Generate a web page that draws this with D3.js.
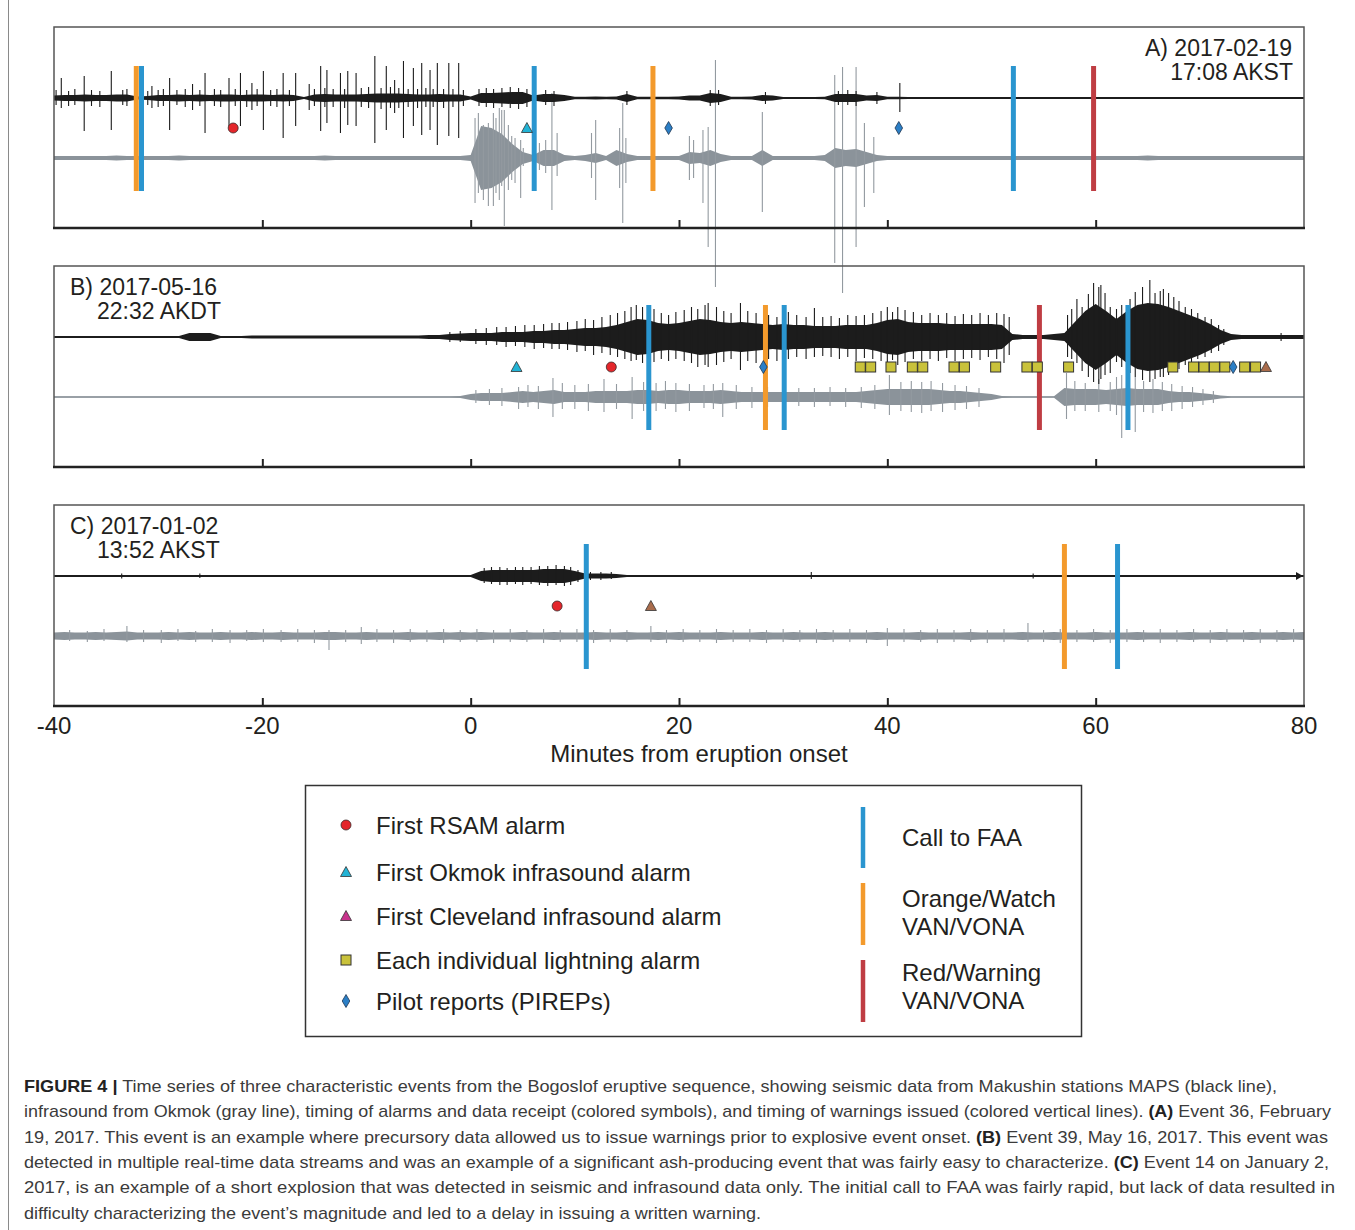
<!DOCTYPE html>
<html><head><meta charset="utf-8">
<script src="https://cdn.jsdelivr.net/npm/d3@7"></script>
<style>
body{margin:0;background:#fff}
svg{display:block}
text{font-family:"Liberation Sans",Arial,Helvetica,sans-serif}
</style>
</head><body>
<svg id="chart" width="1355" height="1230"></svg>
<script>
// ---------------- DATA ----------------
// sample grid: one envelope (core half-amplitude) value per minute, -40 .. 80
const minutes = d3.range(-40, 81);
const xTicks = [-40, -20, 0, 20, 40, 60, 80];
const innerTicks = [-20, 0, 20, 40, 60];
const xTitle = "Minutes from eruption onset";

// Panel A 2017-02-19 : seismic (MAPS, black) and infrasound (Okmok, gray)
const seisA = [2.5,3,3,3.5,3,3,3.5,3.5,1.5,2, 3,3,3.5,3,3.5,3,3.5,3.5,3,3.5, 3.5,3,3.5,3,1,3.5,4,3.5,3.5,3.5, 4,4.5,4.5,4.5,4,3.5,3.5,4,3.5,3.5,
  1.5,5,5,5.5,6,6,2.5,4,4,3, 1.2,1.2,1.5,1.2,1.5,4,1.2,1.2,1.2,1.2, 1.5,2.5,2.5,5,4,1.2,1.2,1.5,3,2.5, 1,1,1,1,1.2,4,4,4,2.5,3,
  1.2,1.2,1,1,1,1,1,1,1,1, 1,1,1,1,1,1,1,1,1,1, 1,1,1,1,1,1,1,1,1,1, 1,1,1,1,1,1,1,1,1,1,1];
const infraA = [2,2,2,2,2,2,2.5,2,2,2, 2,2,2.5,2,2,2,2,2,2,2, 2,2,2,2,2,2,2.5,2,2,2, 2,2,2,2,2,2,2,2,2,2,
  3,32,30,24,14,6,3,8,8,3, 2,3,5,2,8,4,2,2,2,2, 2,6,5,8,4,2,2,2,8,2, 2,2,2,2,3,10,8,9,6,3,
  2,2,2,2,2,2,2,2,2,2, 2,2,2,2,2,2,2,2,2,2, 2,2,2,2,2,2.5,2,2,2,2, 2,2,2,2,2,2,2,2,2,2,2];
// spikes: [minute, up, down]
const seisSpikesA = [[-39.3,20,10],[-37.1,22,33],[-34.5,27,32],[-30.6,12,10],[-28.9,20,32],[-26.7,14,12],
  [-25.5,25,35],[-23.2,20,28],[-22.1,25,28],[-21.0,15,12],[-19.9,27,32],[-18.0,25,40],[-16.8,25,28],
  [-15.5,14,12],[-14.4,32,33],[-13.8,28,25],[-12.5,25,35],[-11.8,27,27],[-11.0,25,28],[-9.2,42,45],
  [-8.1,32,32],[-7.3,18,15],[-6.45,37,40],[-5.5,30,28],[-4.7,35,37],[-3.9,28,32],[-3.2,35,47],
  [-2.1,35,38],[-1.15,35,40],[41.2,15,14],
  [-39.8,8,7],[-38.6,7,8],[-38.0,9,7],[-36.4,8,8],[-35.6,7,9],[-33.4,8,7],[-33.0,9,8],[-31.0,7,7],[-30.0,8,9],
  [-29.5,9,8],[-28.2,8,7],[-27.4,9,9],[-26.0,8,8],[-24.6,9,8],[-24.0,8,9],[-22.6,9,8],[-21.5,8,9],[-20.5,9,8],
  [-19.2,8,8],[-18.6,9,9],[-17.4,8,8],[-15.0,9,8],[-14.0,10,9],[-13.2,9,9],[-12.1,9,10],[-10.5,10,9],[-9.8,11,10],
  [-8.6,10,11],[-7.7,11,10],[-6.9,10,10],[-6.0,9,9],[-5.1,9,10],[-4.3,10,9],[-3.6,9,9],[-2.6,9,10],[-1.7,9,9],[-0.7,8,8],
  [0.8,9,8],[1.5,10,9],[2.2,9,10],[3.0,10,9],[3.8,11,10],[4.6,10,11],[5.4,9,9],[7.2,8,7],[8.0,7,8],
  [15.0,7,7],[23.0,8,8],[23.8,8,7],[28.3,6,6],[35.3,7,7],[36.2,8,7],[37.0,7,8],[39.0,6,6]];
const infraSpikesA = [[0.42,40,45],[0.74,45,35],[1.22,33,42],[1.70,35,48],[2.18,45,48],[2.43,40,35],[2.75,50,42],
  [2.98,48,28],[3.23,48,68],[3.62,33,32],[3.94,22,22],[4.26,20,25],[4.80,18,40],[5.05,10,8],
  [6.6,15,12],[7.2,18,15],[7.8,65,52],[8.3,25,18],[11.6,25,20],[12.0,38,42],[14.3,30,30],[14.6,55,65],[14.9,20,25],
  [21.0,22,22],[21.4,18,20],[22.3,28,45],[22.8,31,89],[23.5,98,129],[28.0,46,54],
  [34.95,83,105],[35.7,91,135],[37.0,91,89],[37.8,35,49],[38.7,21,35]];

// Panel B 2017-05-16
const seisB = [1,1,1,1,1,1,1,1,1,1, 1,1,1,4,4,4,1,1,1,1.5, 1.5,1.5,1.5,1.5,1.5,1.5,1.5,1.5,1.5,1.5,
  1.5,1.5,1.5,1.5,1.5,1.5,2,2,3,3.5, 4,4,4,5,5,5,6,6,7,7, 8,9,9,10,12,15,18,17,14,13,
  14,16,18,17,15,14,15,14,13,12, 13,12,12,11,11,11,12,12,12,14, 17,18,15,14,14,14,13,13,13,13,
  13,12,3,2,2,2,3,4,15,26, 33,26,18,26,32,34,33,30,26,22, 18,13,7,3,2,2,2,2,2,2,2];
const infraB = [0.8,0.8,0.8,0.8,0.8,0.8,0.8,0.8,0.8,0.8, 0.8,0.8,0.8,0.8,0.8,0.8,0.8,0.8,0.8,0.8,
  0.8,0.8,0.8,0.8,0.8,0.8,0.8,0.8,0.8,0.8, 0.8,0.8,0.8,0.8,0.8,0.8,0.8,0.8,0.8,1,
  3,4,4,4,5,6,5,6,7,5, 5,5,6,6,6,6,7,7,6,7, 7,6,6,6,7,6,5,5,5,5, 5,5,5,5,5,5,5,5,6,7,
  8,8,8,8,8,7,6,6,5,4, 3,1,0.8,0.8,0.8,0.8,0.8,9,8,8, 8,7,8,9,8,8,8,6,5,5,
  4,3,1.5,0.8,0.8,0.8,0.8,0.8,0.8,0.8,0.8];
const seisSpikesB = [[-2.0,5,5],[-1.0,6,5],[0.5,8,7],[1.5,9,8],[2.5,10,8],[3.4,10,10],[4.3,11,9],[5.2,12,10],
  [6.1,12,12],[7.0,13,11],[7.8,14,12],[8.5,14,12],[9.3,15,13],[10.2,16,15],[11.0,18,14],[11.8,17,18],[12.6,20,16],
  [13.4,22,18],[14.1,24,20],[14.8,26,22],[15.4,30,24],[15.9,32,23],[16.5,30,26],[17.6,28,25],[18.3,24,22],[19.0,22,24],
  [19.7,25,22],[20.5,27,24],[21.2,30,26],[21.8,28,30],[22.5,32,28],[22.8,34,30],[23.6,30,28],[24.3,26,25],[25.0,24,22],
  [25.9,34,33],[26.6,26,24],[27.4,24,26],[28.6,22,22],[29.4,20,24],[30.5,25,22],[31.3,22,20],[32.2,20,22],[33.0,29,20],
  [33.8,20,19],[34.6,21,20],[35.4,19,22],[36.2,22,20],[37.0,21,24],[37.8,22,21],[38.6,24,22],[39.4,26,24],[40.0,30,26],
  [40.5,25,23],[41.0,30,28],[41.7,27,25],[42.5,25,22],[43.3,22,24],[44.1,24,22],[44.9,22,24],[45.7,24,21],[46.5,21,24],
  [47.3,23,22],[48.1,22,21],[48.9,24,23],[49.7,22,20],[50.5,24,22],[51.2,23,26],[51.7,20,18],
  [57.3,22,20],[57.7,28,22],[58.2,38,26],[58.7,30,34],[59.3,43,40],[59.8,54,45],[60.3,50,47],[60.5,52,42],[60.9,44,38],
  [61.4,30,36],[62.0,28,25],[62.5,32,30],[63.3,38,36],[63.8,45,40],[64.5,50,43],[65.2,57,45],[65.7,44,42],[66.2,46,40],
  [66.5,48,40],[67.0,44,38],[67.5,40,30],[68.0,36,32],[68.6,30,28],[69.2,28,26],[69.8,24,22],[70.5,20,20],[71.1,18,16],
  [71.8,12,14],[72.3,8,8],[77.8,4,4]];
const infraSpikesB = [[0.5,7,6],[1.8,8,8],[3.0,9,9],[4.6,10,12],[5.5,12,10],[6.5,11,12],[7.9,19,20],[8.8,14,12],
  [10.0,12,12],[11.3,13,14],[12.8,18,15],[14.0,13,12],[15.5,20,22],[16.6,15,14],[17.8,14,14],[18.7,16,12],[19.7,14,15],
  [21.0,13,14],[22.4,12,11],[23.3,13,12],[24.2,14,20],[25.5,12,12],[27.0,10,11],[28.5,10,10],[30.0,9,10],[31.5,9,9],
  [33.0,9,10],[34.5,10,9],[36.0,9,10],[37.5,10,11],[38.8,12,12],[40.2,22,18],[41.3,15,14],[42.3,16,15],[43.3,15,16],
  [44.2,16,14],[45.3,14,15],[46.5,12,13],[47.6,11,12],[48.8,9,10],[57.2,24,22],[58.0,16,14],[59.0,14,14],[60.3,18,15],
  [61.4,15,14],[62.0,20,18],[62.5,22,41],[63.2,18,16],[63.8,20,35],[64.6,16,15],[65.5,18,16],[66.4,15,14],[67.3,13,14],
  [68.3,11,12],[69.3,10,10],[70.3,8,8],[71.3,6,6]];

// Panel C 2017-01-02
const seisC = [1,1,1,1,1,1,1,1,1,1, 1,1,1,1,1,1,1,1,1,1, 1,1,1,1,1,1,1,1,1,1, 1,1,1,1,1,1,1,1,1,1,
  1,5,6,6,6,6,6,7,7,7, 5,2.5,2.5,2.5,2,1,1,1,1,1, 1,1,1,1,1,1,1,1,1,1, 1,1,1,1,1,1,1,1,1,1,
  1,1,1,1,1,1,1,1,1,1, 1,1,1,1,1,1,1,1,1,1, 1,1,1,1,1,1,1,1,1,1, 1,1,1,1,1,1,1,1,1,1,1];
const infraC = [3.5,4,3.5,3.5,4,3.5,4,4.5,3.5,3.5, 3.5,4,3.5,4,3.5,3.5,4,3.5,3.5,4, 3.5,3.5,4,3.5,3.5,3.5,4,4,3.5,3.5,
  4,3.5,3.5,3.5,4,3.5,3.5,4,3.5,4, 3.5,4,3.5,3.5,3.5,4,3.5,3.5,4,3.5, 3.5,3.5,4,3.5,3.5,4,3.5,3.5,4,3.5,
  4,3.5,3.5,3.5,4,3.5,3.5,3.5,4,3.5, 3.5,4,3.5,3.5,4,3.5,3.5,3.5,3.5,4, 3.5,3.5,3.5,4,3.5,3.5,3.5,3.5,4,3.5,
  3.5,3.5,3.5,4,3.5,3.5,4,3.5,3.5,3.5, 4,3.5,3.5,3.5,4,3.5,3.5,3.5,3.5,4, 3.5,3.5,4,3.5,3.5,4,3.5,3.5,4,3.5,4];
const seisSpikesC = [[1.3,8,7],[2.0,9,8],[2.8,9,9],[3.5,8,9],[4.3,9,8],[5.0,9,9],[5.8,9,8],[6.6,10,9],[7.4,10,10],
  [8.2,11,9],[9.0,10,10],[9.6,9,9],[10.3,6,6],[11.5,4,4],[12.5,4,4],[13.5,4,3],[-33.5,2.5,2.5],[-26.0,2.5,2],[32.7,4,3],[54.0,2.5,2.5]];
const infraSpikesC = [[-38.5,6,5],[-36.8,5,6],[-35.2,7,5],[-33.0,10,6],[-31.4,6,6],[-29.7,6,7],[-28.1,7,5],[-26.4,5,6],
  [-24.8,7,6],[-23.1,6,7],[-21.5,6,5],[-19.9,7,6],[-18.2,6,6],[-16.6,7,6],[-15.0,6,7],[-13.6,6,14],[-12.0,6,6],
  [-10.5,9,8],[-9.0,7,6],[-7.4,6,7],[-5.8,7,6],[-4.2,6,6],[-2.6,7,7],[-1.0,6,6],[0.6,7,6],[2.2,6,7],[3.8,7,6],
  [5.4,6,6],[7.0,7,7],[8.6,6,6],[10.2,7,6],[11.8,6,7],[13.4,7,6],[15.0,6,6],[17.3,10,6],[18.8,6,7],[20.4,7,6],
  [22.0,6,6],[23.6,7,7],[25.2,6,6],[26.8,7,6],[28.4,6,7],[30.0,7,6],[31.6,6,6],[33.2,7,7],[34.8,6,6],[36.4,7,6],
  [38.0,6,7],[40.0,8,10],[41.6,7,6],[43.2,6,6],[44.8,7,7],[46.4,6,6],[48.0,7,6],[49.6,6,7],[51.2,7,6],[53.5,13,6],
  [55.0,6,6],[56.6,7,7],[58.2,6,6],[59.8,7,6],[61.4,6,7],[63.0,7,6],[64.6,6,6],[66.2,7,7],[67.8,6,6],[69.4,7,6],
  [71.0,6,7],[72.6,7,6],[74.2,6,6],[75.8,7,7],[77.4,6,6],[79.0,7,6]];

// Alarms (symbols), minutes
const markersA = [{t:-22.8,k:"rsam"},{t:5.4,k:"okmok"},{t:19.0,k:"pirep"},{t:41.1,k:"pirep"}];
const lightningB = [37.4,38.4,40.35,42.4,43.4,46.4,47.4,50.4,53.4,54.4,57.4,67.4,69.4,70.4,71.4,72.4,74.3,75.35];
const markersB = [{t:4.4,k:"okmok"},{t:13.5,k:"rsam"},{t:28.1,k:"pirep"},{t:73.2,k:"pirep"},{t:76.35,k:"cleveland"}];
const markersC = [{t:8.3,k:"rsam"},{t:17.3,k:"cleveland"}];

// Warnings (vertical lines), minutes
const warnA = [{t:-32.1,k:"orange"},{t:-31.6,k:"blue"},{t:6.1,k:"blue"},{t:17.5,k:"orange"},{t:52.1,k:"blue"},{t:59.8,k:"red"}];
const warnB = [{t:17.1,k:"blue"},{t:28.3,k:"orange"},{t:30.1,k:"blue"},{t:54.6,k:"red"},{t:63.1,k:"blue"}];
const warnC = [{t:11.1,k:"blue"},{t:57.0,k:"orange"},{t:62.1,k:"blue"}];

const panelLabels = [["A) 2017-02-19","17:08 AKST"],["B) 2017-05-16","22:32 AKDT"],["C) 2017-01-02","13:52 AKST"]];

const legendSymbols = [["rsam","First RSAM alarm"],["okmok","First Okmok infrasound alarm"],
  ["clevelandLegend","First Cleveland infrasound alarm"],["lightning","Each individual lightning alarm"],
  ["pirep","Pilot reports (PIREPs)"]];
const legendLines = [["blue",["Call to FAA"]],["orange",["Orange/Watch","VAN/VONA"]],["red",["Red/Warning","VAN/VONA"]]];

const captionLines = [
  [["FIGURE 4 |",true],[" Time series of three characteristic events from the Bogoslof eruptive sequence, showing seismic data from Makushin stations MAPS (black line),",false]],
  [["infrasound from Okmok (gray line), timing of alarms and data receipt (colored symbols), and timing of warnings issued (colored vertical lines). ",false],["(A)",true],[" Event 36, February",false]],
  [["19, 2017. This event is an example where precursory data allowed us to issue warnings prior to explosive event onset. ",false],["(B)",true],[" Event 39, May 16, 2017. This event was",false]],
  [["detected in multiple real-time data streams and was an example of a significant ash-producing event that was fairly easy to characterize. ",false],["(C)",true],[" Event 14 on January 2,",false]],
  [["2017, is an example of a short explosion that was detected in seismic and infrasound data only. The initial call to FAA was fairly rapid, but lack of data resulted in",false]],
  [["difficulty characterizing the event\u2019s magnitude and led to a delay in issuing a written warning.",false]]
];
const captionWidths = [1253,1307,1304,1305,1311,737];

// ---------------- STYLE ----------------
const warnColor = {blue:"#2a95cf", orange:"#f39a2c", red:"#bf3d43"};
const seisColor = "#1c1c1c", infraColor = "#8b939a", infraSpikeColor = "#939aa0";

// ---------------- DRAW ----------------
const svg = d3.select("#chart");
const x = d3.scaleLinear().domain([-40, 80]).range([54, 1304]);
const amp = d3.scaleLinear().domain([0, 100]).range([0, 100]);
const panelTop = [27, 266, 505];
const panelH = 201;

svg.append("line").attr("x1",8.5).attr("x2",8.5).attr("y1",0).attr("y2",1230).attr("stroke","#8a8a8a").attr("stroke-width",1);

const panels = [
  {seis:seisA, infra:infraA, ss:seisSpikesA, is:infraSpikesA, markers:markersA, warn:warnA, light:[]},
  {seis:seisB, infra:infraB, ss:seisSpikesB, is:infraSpikesB, markers:markersB, warn:warnB, light:lightningB},
  {seis:seisC, infra:infraC, ss:seisSpikesC, is:infraSpikesC, markers:markersC, warn:warnC, light:[]}
];

function drawTrace(g, base, env, color, spikes, spikeColor, baseW){
  const area = d3.area().x((d,i)=>x(minutes[i])).y0(d=>base+amp(d)).y1(d=>base-amp(d));
  g.append("path").datum(env).attr("d",area).attr("fill",color);
  g.append("line").attr("x1",x(-40)).attr("x2",x(80)).attr("y1",base).attr("y2",base)
    .attr("stroke",color).attr("stroke-width",baseW);
  g.selectAll(null).data(spikes).enter().append("line")
    .attr("x1",d=>x(d[0])).attr("x2",d=>x(d[0]))
    .attr("y1",d=>base-amp(d[1])).attr("y2",d=>base+amp(d[2]))
    .attr("stroke",spikeColor).attr("stroke-width",1.1);
}

function symbol(g, kind, cx, cy){
  if(kind==="rsam") g.append("circle").attr("cx",cx).attr("cy",cy).attr("r",5).attr("fill","#e4262b").attr("stroke","#3a2a2a").attr("stroke-width",0.8);
  else if(kind==="okmok"||kind==="cleveland"||kind==="clevelandLegend"){
    const fill = kind==="okmok"?"#22b3d5":(kind==="cleveland"?"#a96c4c":"#c8338c");
    g.append("path").attr("d",`M${cx},${cy-5.5}L${cx+5.5},${cy+4.5}L${cx-5.5},${cy+4.5}Z`).attr("fill",fill).attr("stroke","#333").attr("stroke-width",0.8);
  } else if(kind==="lightning"){
    g.append("rect").attr("x",cx-5).attr("y",cy-5).attr("width",10).attr("height",10).attr("fill","#c9c23b").attr("stroke","#333").attr("stroke-width",1);
  } else if(kind==="pirep"){
    g.append("path").attr("d",`M${cx},${cy-6.5}L${cx+3.8},${cy}L${cx},${cy+6.5}L${cx-3.8},${cy}Z`).attr("fill","#2b7fc6").attr("stroke","#1e3550").attr("stroke-width",0.8);
  }
}

const traceLayer = svg.append("g");
const frameLayer = svg.append("g");
const topLayer = svg.append("g");

panels.forEach((p, pi)=>{
  const T = panelTop[pi];
  const seisBase = T+71, infraBase = T+131, mY = T+101;
  frameLayer.append("rect").attr("x",x(-40)).attr("y",T).attr("width",x(80)-x(-40)).attr("height",panelH)
    .attr("fill","none").attr("stroke","#555").attr("stroke-width",1.5);
  frameLayer.append("line").attr("x1",x(-40)-1).attr("x2",x(80)+1).attr("y1",T+panelH).attr("y2",T+panelH)
    .attr("stroke","#222").attr("stroke-width",2.5);
  const ax = d3.axisBottom(x).tickValues(innerTicks).tickSize(-8).tickFormat("");
  const axg = frameLayer.append("g").attr("transform",`translate(0,${T+panelH})`).call(ax);
  axg.select(".domain").remove();
  axg.selectAll(".tick line").attr("stroke","#222").attr("stroke-width",2);

  drawTrace(traceLayer, infraBase, p.infra, infraColor, p.is, infraSpikeColor, 1.2);
  drawTrace(traceLayer, seisBase, p.seis, seisColor, p.ss, seisColor, 1.6);

  p.warn.forEach(w=>{
    topLayer.append("line").attr("x1",x(w.t)).attr("x2",x(w.t)).attr("y1",T+39).attr("y2",T+164)
      .attr("stroke",warnColor[w.k]).attr("stroke-width",5);
  });
  p.light.forEach(t=>symbol(topLayer,"lightning",x(t),mY));
  p.markers.forEach(m=>symbol(topLayer,m.k,x(m.t),mY));

  const lab = panelLabels[pi];
  if(pi===0){
    topLayer.append("text").attr("x",1292).attr("y",T+29).attr("text-anchor","end").attr("font-size",23).attr("fill","#231f20").text(lab[0]);
    topLayer.append("text").attr("x",1293).attr("y",T+53).attr("text-anchor","end").attr("font-size",23).attr("fill","#231f20").text(lab[1]);
  } else {
    topLayer.append("text").attr("x",70).attr("y",T+29).attr("font-size",23).attr("fill","#231f20").text(lab[0]);
    topLayer.append("text").attr("x",97).attr("y",T+53).attr("font-size",23).attr("fill","#231f20").text(lab[1]);
  }
});

// end-of-trace arrow in panel C
topLayer.append("path").attr("d",`M${x(80)-8},${panelTop[2]+71-4}L${x(80)-1},${panelTop[2]+71}L${x(80)-8},${panelTop[2]+71+4}Z`).attr("fill","#1c1c1c");

// x tick labels and title
svg.selectAll(null).data(xTicks).enter().append("text")
  .attr("x",d=>x(d)).attr("y",734).attr("text-anchor","middle").attr("font-size",24).attr("fill","#231f20")
  .text(d=>String(d));
svg.append("text").attr("x",699).attr("y",762).attr("text-anchor","middle").attr("font-size",24).attr("fill","#231f20").text(xTitle);

// legend
const lg = svg.append("g");
lg.append("rect").attr("x",305.5).attr("y",785.5).attr("width",776).attr("height",251).attr("fill","none").attr("stroke","#333").attr("stroke-width",1.5);
const rowY = [825, 872, 916, 960, 1001];
legendSymbols.forEach((s,i)=>{
  symbol(lg, s[0], 346, rowY[i]);
  lg.append("text").attr("x",376).attr("y",rowY[i]+8.5).attr("font-size",24).attr("fill","#231f20").text(s[1]);
});
const lineSeg = [[807,868],[883,945],[960,1022]];
const lineTextY = [[846],[907,935],[981,1009]];
legendLines.forEach((l,i)=>{
  lg.append("line").attr("x1",863).attr("x2",863).attr("y1",lineSeg[i][0]).attr("y2",lineSeg[i][1]).attr("stroke",warnColor[l[0]]).attr("stroke-width",4.5);
  l[1].forEach((t,j)=>lg.append("text").attr("x",902).attr("y",lineTextY[i][j]).attr("font-size",24).attr("fill","#231f20").text(t));
});

// caption
const capY = [1092,1117,1143,1168,1193,1219];
captionLines.forEach((parts,i)=>{
  const t = svg.append("text").attr("x",24).attr("y",capY[i]).attr("font-size",17).attr("fill","#3b3b3b")
    .attr("textLength",captionWidths[i]).attr("lengthAdjust","spacingAndGlyphs");
  parts.forEach(p=>t.append("tspan").attr("font-weight",p[1]?"bold":"normal").attr("fill",p[1]?"#222":"#3b3b3b").text(p[0]));
});
</script>
</body></html>
